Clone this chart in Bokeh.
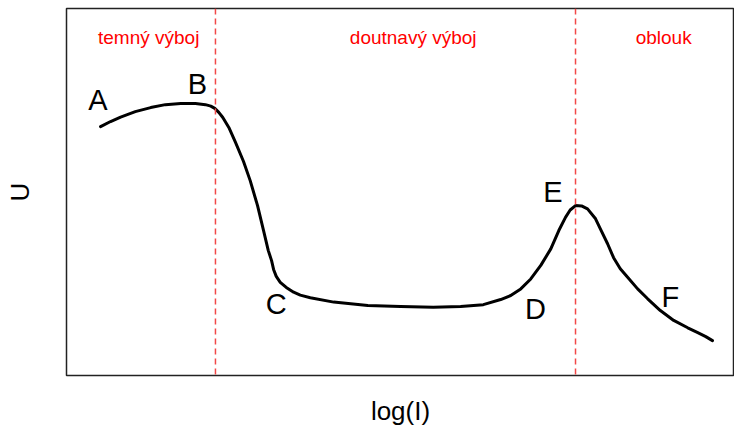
from bokeh.plotting import figure
from bokeh.models import Range1d, FixedTicker, Span, ColumnDataSource
from bokeh.core.properties import value
from bokeh.embed import file_html
from bokeh.resources import INLINE

# curve U vs log(I) (arbitrary units)
log_i = [0.51, 0.66, 0.81, 1.03, 1.26, 1.48, 1.71, 1.93, 2.08, 2.16, 2.22, 2.28, 2.34,
         2.43, 2.53, 2.65, 2.75, 2.86, 2.95, 3.02, 3.07, 3.10, 3.14, 3.20, 3.29, 3.40,
         3.50, 3.65, 4.00, 4.51, 5.00, 5.49, 5.90, 6.24, 6.50, 6.65, 6.80, 6.95, 7.10,
         7.25, 7.37, 7.47, 7.54, 7.62, 7.71, 7.80, 7.92, 7.99, 8.10, 8.19, 8.29, 8.40,
         8.55, 8.70, 8.89, 9.09, 9.30, 9.45, 9.57, 9.67]
u_vals = [6.78, 6.92, 7.04, 7.19, 7.30, 7.38, 7.41, 7.41, 7.38, 7.34, 7.28, 7.17, 7.03,
          6.76, 6.35, 5.83, 5.31, 4.63, 3.95, 3.41, 3.13, 2.89, 2.70, 2.54, 2.40, 2.27,
          2.19, 2.12, 2.00, 1.91, 1.88, 1.86, 1.88, 1.93, 2.07, 2.18, 2.36, 2.63, 3.00,
          3.45, 3.95, 4.31, 4.51, 4.63, 4.62, 4.54, 4.27, 4.00, 3.59, 3.21, 2.91, 2.68,
          2.36, 2.09, 1.77, 1.50, 1.30, 1.17, 1.06, 0.95]

# region boundaries and names
boundaries = [2.23, 7.62]
region_names = ["temný výboj", "doutnavý výboj", "oblouk"]
region_x = [1.23, 5.19, 8.94]
region_y = [9.22, 9.22, 9.22]

# point letters
point_names = ["A", "B", "C", "D", "E", "F"]
point_x = [0.47, 1.96, 3.14, 7.02, 7.28, 9.04]
point_y = [7.52, 7.93, 1.96, 1.80, 4.99, 2.15]

FONT = "Liberation Sans"

p = figure(width=734, height=428, output_backend="svg", toolbar_location=None,
           x_range=Range1d(0, 10), y_range=Range1d(0, 10),
           min_border_left=66, min_border_right=0, min_border_top=8, min_border_bottom=53,
           x_axis_label="log(I)", y_axis_label="U")
p.grid.visible = False
p.background_fill_color = "white"
p.border_fill_color = "white"
p.outline_line_color = "#222222"
p.outline_line_width = 1.5

for ax in (p.xaxis[0], p.yaxis[0]):
    ax.ticker = FixedTicker(ticks=[])
    ax.major_tick_line_color = None
    ax.minor_tick_line_color = None
    ax.major_tick_out = 0
    ax.major_tick_in = 0
    ax.major_label_standoff = 0
    ax.axis_line_color = None
    ax.major_label_text_font_size = "0px"
    ax.axis_label_text_font = FONT
    ax.axis_label_text_font_size = "26px"
    ax.axis_label_text_font_style = "normal"
    ax.axis_label_text_color = "black"
p.xaxis.axis_label_standoff = 20
p.yaxis.axis_label_standoff = 32

for b in boundaries:
    p.add_layout(Span(location=b, dimension="height", line_color="#f24848",
                      line_width=1.5, line_dash="6 4"))

p.line(log_i, u_vals, line_color="black", line_width=3, line_join="round", line_cap="round")

src_r = ColumnDataSource(dict(x=region_x, y=region_y, t=region_names))
p.text(x="x", y="y", text="t", source=src_r, text_color="#ff0000",
       text_font=value(FONT), text_font_size="19px", text_align="center", text_baseline="middle")

src_p = ColumnDataSource(dict(x=point_x, y=point_y, t=point_names))
p.text(x="x", y="y", text="t", source=src_p, text_color="black",
       text_font=value(FONT), text_font_size="29px", text_align="center", text_baseline="middle")

open("out.html", "w").write(file_html(p, INLINE))
